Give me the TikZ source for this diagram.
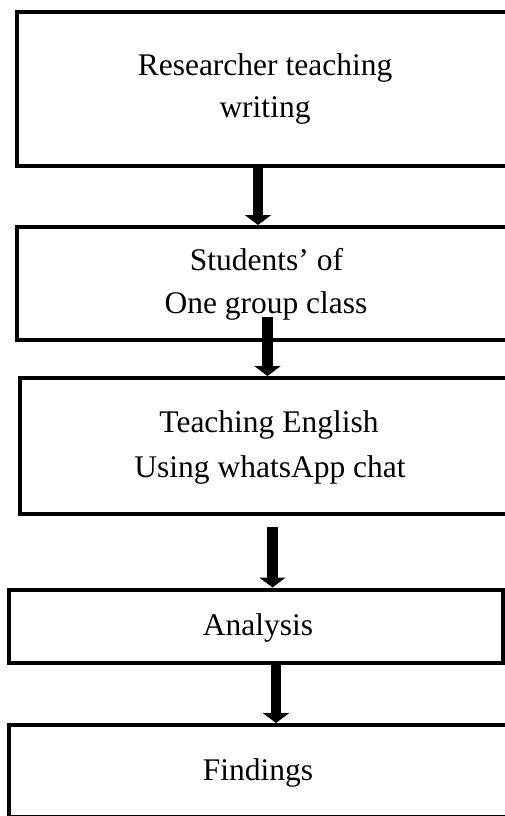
\documentclass[tikz,border=0pt]{standalone}
\usepackage{fontspec}
\setmainfont{Liberation Serif}
\usetikzlibrary{arrows.meta}
\begin{document}
\begin{tikzpicture}[x=1pt,y=-1pt,
  stepbox/.style={draw=black, line width=4pt, rectangle, inner sep=0pt, minimum width=#1},
  txt/.style={anchor=base, inner sep=0pt, font=\fontsize{31.5}{42}\selectfont},
  flow/.style={line width=10.5pt, -{Triangle[width=26pt,length=10pt]}}]
\useasboundingbox (0,0) rectangle (505,816);
\clip (0,0) rectangle (505,816);
\fill[white] (0,0) rectangle (505,816);
% boxes
\node[stepbox=513pt, minimum height=153.5pt] (b1) at (273.5,88.75) {};
\node[stepbox=513pt, minimum height=112.5pt] (b2) at (273.5,283.25) {};
\node[stepbox=510pt, minimum height=136pt] (b3) at (275,446) {};
\node[stepbox=494pt, minimum height=73pt] (b4) at (256,626) {};
\node[stepbox=521pt, minimum height=91.5pt] (b5) at (269.5,770.75) {};
% texts
\node[txt] (t1a) at (265,75) {Researcher teaching};
\node[txt] (t1b) at (265,117) {writing};
\node[txt] (t2a) at (266.5,270) {Students’ of};
\node[txt] (t2b) at (266,313) {One group class};
\node[txt] (t3a) at (269,432) {Teaching English};
\node[txt] (t3b) at (270,477) {Using whatsApp chat};
\node[txt] (t4) at (258,635) {Analysis};
\node[txt] (t5) at (258,780) {Findings};
% connectors
\coordinate (s2) at (267.5,317);
\coordinate (s3) at (272.5,527);
\draw[flow] (b1.south -| 258,0) -- (b2.north -| 258,0);
\draw[flow] (s2) -- (b3.north -| s2);
\draw[flow] (s3) -- (b4.north -| s3);
\draw[flow] (b4.south -| 276,0) -- (b5.north -| 276,0);
\end{tikzpicture}
\end{document}
